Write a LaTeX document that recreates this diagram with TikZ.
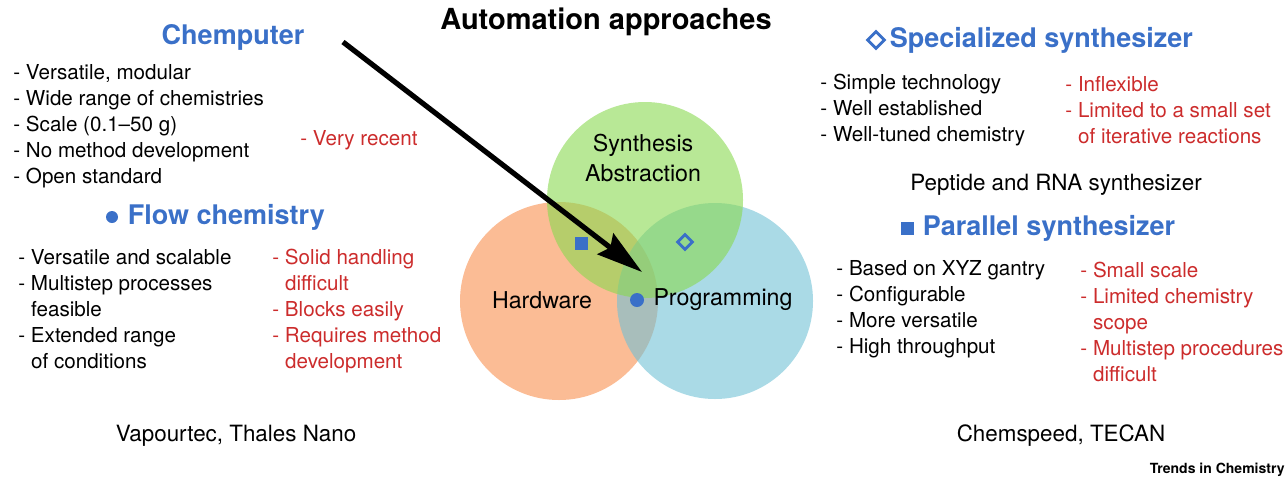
\documentclass[tikz,border=0pt]{standalone}
\usepackage{fontspec}
\setmainfont{TeX Gyre Heros}
\usetikzlibrary{arrows.meta,positioning,shapes.geometric}
\definecolor{headblue}{RGB}{58,112,200}
\definecolor{conred}{RGB}{204,44,44}
\definecolor{hwfill}{RGB}{248,143,78}
\definecolor{progfill}{RGB}{113,193,213}
\definecolor{synfill}{RGB}{137,217,80}
\newcommand{\ind}{\hspace*{0.62em}}
\begin{document}
\begin{tikzpicture}[x=0.5pt,y=-0.5pt,
  body/.style={inner sep=0pt,align=left,font=\fontsize{10.3}{13}\selectfont},
  con/.style={body,text=conred},
  caption/.style={inner sep=0pt,font=\fontsize{11.2}{14}\selectfont},
  heading/.style={inner sep=0pt,text=headblue,font=\fontsize{13.5}{16}\selectfont\bfseries},
  venn/.style={fill opacity=0.6},
  vlabel/.style={inner sep=0pt,align=center,font=\fontsize{11.6}{15}\selectfont},
  dotmark/.style={circle,fill=headblue,inner sep=0pt,minimum size=#1},
  sqmark/.style={rectangle,fill=headblue,inner sep=0pt,minimum size=#1},
  dimark/.style={diamond,draw=headblue,line width=1.4pt,inner sep=0pt,minimum size=#1}]
\useasboundingbox (0,0) rectangle (1288,477);

% Venn
\fill[venn,hwfill] (559,301) circle (49.5pt);
\fill[venn,progfill] (715,301) circle (49pt);
\fill[venn,synfill] (645,200) circle (49pt);
\node[vlabel] (syn) at (643,158) {Synthesis\\Abstraction};
\node[vlabel] (hw) at (542,300) {Hardware};
\node[vlabel] (prog) at (723,300) {Programming};
\node[sqmark=6.5pt] (vsq) at (581,243) {};
\node[dimark=8pt] (vdi) at (685,242) {};
\node[dotmark=7pt] (vdot) at (637,300) {};

% Titel und Pfeil
\node[inner sep=0pt,font=\fontsize{14.5}{17}\selectfont\bfseries] (title) at (606,22) {Automation approaches};
\coordinate (pstart) at (343,42);
\coordinate (ptip) at (642,272);
\draw[line width=2.6pt,-{Stealth[length=23pt,width=13pt,inset=3pt]}] (pstart) -- (ptip);

% Chemputer
\node[heading] (chem) at (233,37) {Chemputer};
\node[body,anchor=west] (chempro) at (13,126) {- Versatile, modular\\- Wide range of chemistries\\- Scale (0.1–50 g)\\- No method development\\- Open standard};
\node[con,anchor=west] (chemcon) at (300,140) {- Very recent};

% Flow chemistry
\node[dotmark=6pt] (fdot) at (112,217) {};
\node[heading,right=4.5pt of fdot] (flow) {Flow chemistry};
\node[body,anchor=west] (flowpro) at (18,309.5) {- Versatile and scalable\\- Multistep processes\\\ind feasible\\- Extended range\\\ind of conditions};
\node[con,anchor=west] (flowcon) at (272,311.5) {- Solid handling\\\ind difficult\\- Blocks easily\\- Requires method\\\ind development};
\node[caption] (flowex) at (236,436) {Vapourtec, Thales Nano};

% Specialized synthesizer
\node[dimark=9pt] (sdi) at (876,40) {};
\node[heading,right=1.5pt of sdi] (spec) {Specialized synthesizer};
\node[body,anchor=west] (specpro) at (820,110) {- Simple technology\\- Well established\\- Well-tuned chemistry};
\node[con,anchor=west] (speccon) at (1065,110) {- Inflexible\\- Limited to a small set\\\ind of iterative reactions};
\node[caption] (specex) at (1056,185) {Peptide and RNA synthesizer};

% Parallel synthesizer
\node[sqmark=6.5pt] (psq) at (907,228) {};
\node[heading,right=4.3pt of psq] (par) {Parallel synthesizer};
\node[body,anchor=west] (parpro) at (836,309) {- Based on XYZ gantry\\- Configurable\\- More versatile\\- High throughput};
\node[con,anchor=west] (parcon) at (1080,322) {- Small scale\\- Limited chemistry\\\ind scope\\- Multistep procedures\\\ind difficult};
\node[caption] (parex) at (1061,436) {Chemspeed, TECAN};

\node[inner sep=0pt,anchor=east,font=\fontsize{7}{8}\selectfont\bfseries] (journal) at (1285,470) {Trends in Chemistry};
\end{tikzpicture}
\end{document}
